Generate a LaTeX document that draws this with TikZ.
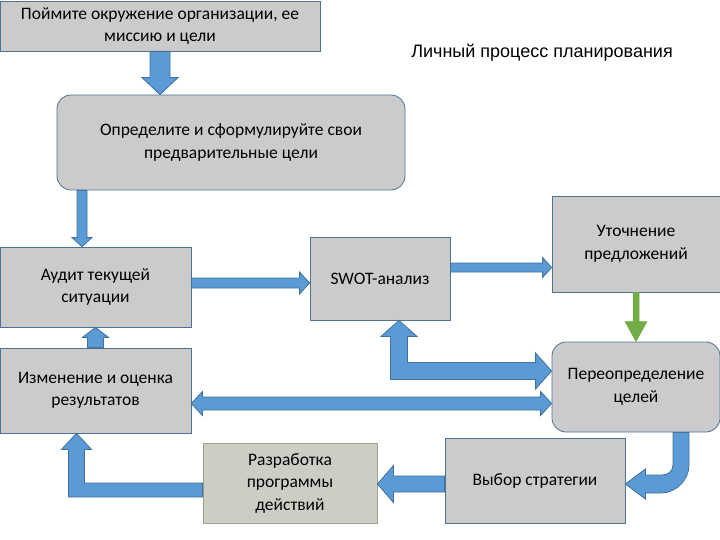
\documentclass[tikz,border=0pt]{standalone}
\usepackage{fontspec}
\setmainfont{Carlito}
\newfontfamily\titlefont{Liberation Sans}
\usetikzlibrary{calc}

\definecolor{boxGray}{HTML}{CBCBCB}
\definecolor{boxLine}{HTML}{4F7396}
\definecolor{oliveGray}{HTML}{CDCDC6}
\definecolor{oliveLine}{HTML}{A2A28A}
\definecolor{arrowBlue}{HTML}{5B9BD5}
\definecolor{arrowLine}{HTML}{41719C}
\definecolor{arrowGreen}{HTML}{70AD47}

\newcommand\blockArrow[6][blueArrow]{%
  \coordinate (ha) at ($(#3)!#6!(#2)$);
  \filldraw[#1] ($(#2)!#4!90:(#3)$) -- ($(ha)!#4!90:(#3)$) -- ($(ha)!#5!90:(#3)$) -- (#3)
    -- ($(ha)!#5!-90:(#3)$) -- ($(ha)!#4!-90:(#3)$) -- ($(#2)!#4!-90:(#3)$) -- cycle;}
\newcommand\twoArrow[5]{%
  \coordinate (ha) at ($(#1)!#5!(#2)$);
  \coordinate (hb) at ($(#2)!#5!(#1)$);
  \filldraw[blueArrow] (#1) -- ($(ha)!#4!90:(#2)$) -- ($(ha)!#3!90:(#2)$) -- ($(hb)!#3!90:(#2)$)
    -- ($(hb)!#4!90:(#2)$) -- (#2) -- ($(hb)!#4!-90:(#2)$) -- ($(hb)!#3!-90:(#2)$)
    -- ($(ha)!#3!-90:(#2)$) -- ($(ha)!#4!-90:(#2)$) -- cycle;}

\begin{document}
\begin{tikzpicture}[x=1pt,y=-1pt,
        grayNode/.style = {draw=boxLine,fill=boxGray,line width=0.8pt,align=center,inner sep=0pt,
            font=\fontsize{17.5}{22.5}\selectfont},
        roundNode/.style = {grayNode,rounded corners=14pt},
        oliveNode/.style = {grayNode,draw=oliveLine,fill=oliveGray},
        titleNode/.style = {font=\titlefont\fontsize{18}{21}\selectfont},
        blueArrow/.style = {fill=arrowBlue,draw=arrowLine,line width=0.8pt},
        greenArrow/.style = {fill=arrowGreen,draw=arrowGreen,line width=0.5pt}
        ]
        \useasboundingbox (0,0) rectangle (720,540);
        \node[grayNode,minimum width=320pt,minimum height=50pt] (ask) at (160,26)
            {Поймите окружение организации, ее\\миссию и цели};
        \node[roundNode,minimum width=348pt,minimum height=95pt] (define) at (231,142.5)
            {Определите и сформулируйте свои\\предварительные цели};
        \node[titleNode] (title) at (542,53) {Личный процесс планирования};
        \node[grayNode,minimum width=191pt,minimum height=80pt] (audit) at (95.5,287)
            {Аудит текущей\\ситуации};
        \node[grayNode,minimum width=140pt,minimum height=83pt] (swot) at (380,278.5) {SWOT-анализ};
        \node[grayNode,minimum width=168pt,minimum height=96pt] (refine) at (636,244)
            {Уточнение\\предложений};
        \node[roundNode,minimum width=168pt,minimum height=90pt] (redefine) at (636,387)
            {Переопределение\\целей};
        \node[grayNode,minimum width=191pt,minimum height=85pt] (change) at (95.5,390.5)
            {Изменение и оценка\\результатов};
        \node[oliveNode,minimum width=174pt,minimum height=80pt] (program) at (290,483)
            {Разработка\\программы\\действий};
        \node[grayNode,minimum width=180pt,minimum height=85pt] (strategy) at (535,480.5)
            {Выбор стратегии};

        \coordinate (defIn) at (ask.south |- define.north);
        \blockArrow{ask.south}{defIn}{10pt}{18pt}{17pt}
        \coordinate (auditIn) at ($(audit.north)+(-13.5,0)$);
        \coordinate (defOut) at (auditIn |- define.south);
        \blockArrow{defOut}{auditIn}{5pt}{10pt}{9pt}
        \blockArrow{change.north}{audit.south}{8pt}{13pt}{10pt}
        \coordinate (auditOut) at ($(audit.east)+(0,-4)$);
        \coordinate (swotIn) at (auditOut -| swot.west);
        \blockArrow{auditOut}{swotIn}{5pt}{11pt}{10pt}
        \coordinate (swotOut) at ($(swot.east)+(0,-11)$);
        \coordinate (refineIn) at (swotOut -| refine.west);
        \blockArrow{swotOut}{refineIn}{4.5pt}{10pt}{9pt}
        \blockArrow[greenArrow]{refine.south}{redefine.north}{3pt}{11pt}{20pt}
        \coordinate (changeOut) at ($(change.east)+(0,13)$);
        \coordinate (redefIn) at (changeOut -| redefine.west);
        \twoArrow{changeOut}{redefIn}{6.5pt}{12pt}{11pt}
        \coordinate (stratOut) at ($(strategy.west)+(0,3.5)$);
        \coordinate (progIn) at (stratOut -| program.east);
        \blockArrow{stratOut}{progIn}{8pt}{18.5pt}{16pt}

        \coordinate (swotIn2) at ($(swot.south)+(19,0)$);
        \coordinate (redefIn2) at ($(redefine.west)+(0,-16)$);
        \coordinate (bend1) at (swotIn2 |- redefIn2);
        \filldraw[blueArrow] (swotIn2) -- ($(swotIn2)+(18,16)$) -- ($(swotIn2)+(8.5,16)$)
            -- ($(bend1)+(8.5,-8.5)$) -- ($(redefIn2)+(-16,-8.5)$) -- ($(redefIn2)+(-16,-18)$)
            -- (redefIn2) -- ($(redefIn2)+(-16,18)$) -- ($(redefIn2)+(-16,8.5)$)
            -- ($(bend1)+(-8.5,8.5)$) -- ($(swotIn2)+(-8.5,16)$) -- ($(swotIn2)+(-18,16)$) -- cycle;

        \coordinate (progOut) at ($(program.west)+(0,7)$);
        \coordinate (changeIn) at ($(change.south)+(-19,0)$);
        \coordinate (bend2) at (changeIn |- progOut);
        \filldraw[blueArrow] (changeIn) -- ($(changeIn)+(15,16)$) -- ($(changeIn)+(8,16)$)
            -- ($(bend2)+(8,-7)$) -- ($(progOut)+(0,-7)$) -- ($(progOut)+(0,7)$)
            -- ($(bend2)+(-8,7)$) -- ($(changeIn)+(-8,16)$) -- ($(changeIn)+(-15,16)$) -- cycle;

        \coordinate (redefOut) at ($(redefine.south)+(45,0)$);
        \coordinate (stratIn) at ($(strategy.east)+(0,3.5)$);
        \coordinate (bend3) at (redefOut |- stratIn);
        \filldraw[blueArrow] ($(redefOut)+(-8,0)$) -- ($(bend3)+(-8,-19)$)
            .. controls ($(bend3)+(-8,-13)$) and ($(bend3)+(-13,-9)$) .. ($(bend3)+(-19,-9)$)
            -- ($(stratIn)+(20,-9)$) -- ($(stratIn)+(20,-15)$) -- (stratIn)
            -- ($(stratIn)+(20,15)$) -- ($(stratIn)+(20,9)$) -- ($(bend3)+(-20,9)$)
            .. controls ($(bend3)+(-5,9)$) and ($(bend3)+(8,-4)$) .. ($(bend3)+(8,-19)$)
            -- ($(redefOut)+(8,0)$) -- cycle;
    \end{tikzpicture}
\end{document}
